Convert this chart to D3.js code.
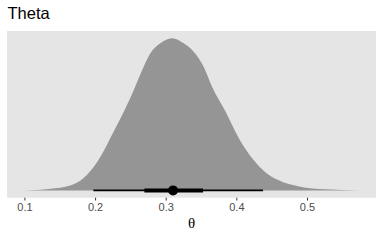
<!DOCTYPE html>
<html>
<head>
<meta charset="utf-8">
<script src="https://cdn.jsdelivr.net/npm/d3@7.9.0/dist/d3.min.js"></script>
<style>
  body { margin: 0; background: #fff; }
  svg { display: block; }
</style>
</head>
<body>
<div id="chart"></div>
<script>
// density of theta (height relative to peak)
const thetaVals = [0.099, 0.137, 0.165, 0.183, 0.203, 0.226, 0.245, 0.2547, 0.2688, 0.2783, 0.2924, 0.309,
  0.3254, 0.3396, 0.3537, 0.3656, 0.385, 0.404, 0.423, 0.441, 0.460, 0.489, 0.526, 0.574];
const densVals = [0, 0.011, 0.033, 0.079, 0.187, 0.384, 0.560, 0.659, 0.813, 0.901, 0.967, 1.0,
  0.967, 0.912, 0.813, 0.681, 0.516, 0.340, 0.208, 0.120, 0.066, 0.026, 0.007, 0];

// point + intervals
const pointEst = 0.3104;
const innerInterval = [0.2698, 0.3529];
const outerInterval = [0.1976, 0.4378];

const xTicks = [0.1, 0.2, 0.3, 0.4, 0.5];

const width = 384, height = 240;
const panel = { left: 7, right: 376, top: 31, bottom: 197.7 };

const svg = d3.select('#chart').append('svg')
  .attr('width', width)
  .attr('height', height);

const xScale = d3.scaleLinear()
  .domain([0.099 - 0.0237, 0.574 + 0.0237])
  .range([panel.left, panel.right]);

const yScale = d3.scaleLinear()
  .domain([-0.048, 1.048])
  .range([panel.bottom, panel.top]);

// panel background
svg.append('rect')
  .attr('x', panel.left)
  .attr('y', panel.top)
  .attr('width', panel.right - panel.left)
  .attr('height', panel.bottom - panel.top)
  .attr('fill', '#e5e5e5');

const dens = thetaVals.map((v, i) => ({ x: v, y: densVals[i] }));

const area = d3.area()
  .x((d) => xScale(d.x))
  .y0(yScale(0))
  .y1((d) => yScale(d.y))
  .curve(d3.curveMonotoneX);

svg.append('path')
  .datum(dens)
  .attr('d', area)
  .attr('fill', '#959595');

// intervals
svg.append('line')
  .attr('x1', xScale(outerInterval[0]))
  .attr('x2', xScale(outerInterval[1]))
  .attr('y1', yScale(0))
  .attr('y2', yScale(0))
  .attr('stroke', '#000')
  .attr('stroke-width', 1.6);

svg.append('line')
  .attr('x1', xScale(innerInterval[0]))
  .attr('x2', xScale(innerInterval[1]))
  .attr('y1', yScale(0))
  .attr('y2', yScale(0))
  .attr('stroke', '#000')
  .attr('stroke-width', 4);

svg.append('circle')
  .attr('cx', xScale(pointEst))
  .attr('cy', yScale(0))
  .attr('r', 5)
  .attr('fill', '#000');

// x axis
const xAxis = svg.append('g')
  .attr('transform', `translate(0,${panel.bottom})`)
  .call(d3.axisBottom(xScale).tickValues(xTicks).tickSize(2.8).tickPadding(3).tickFormat(d3.format('.1f')));

xAxis.select('.domain').remove();
xAxis.selectAll('line').attr('stroke', '#333').attr('stroke-width', 1);
xAxis.selectAll('text')
  .attr('fill', '#4d4d4d')
  .style('font-family', '"Liberation Sans", Arial, sans-serif')
  .style('font-size', '11px');

// axis title
svg.append('text')
  .attr('x', (panel.left + panel.right) / 2)
  .attr('y', 228)
  .attr('text-anchor', 'middle')
  .style('font-family', '"Liberation Serif", "DejaVu Serif", serif')
  .style('font-size', '15px')
  .attr('fill', '#000')
  .text('θ');

// title
svg.append('text')
  .attr('x', 7.5)
  .attr('y', 19)
  .style('font-family', '"Liberation Sans", Arial, sans-serif')
  .style('font-size', '16.5px')
  .attr('fill', '#000')
  .text('Theta');
</script>
</body>
</html>
